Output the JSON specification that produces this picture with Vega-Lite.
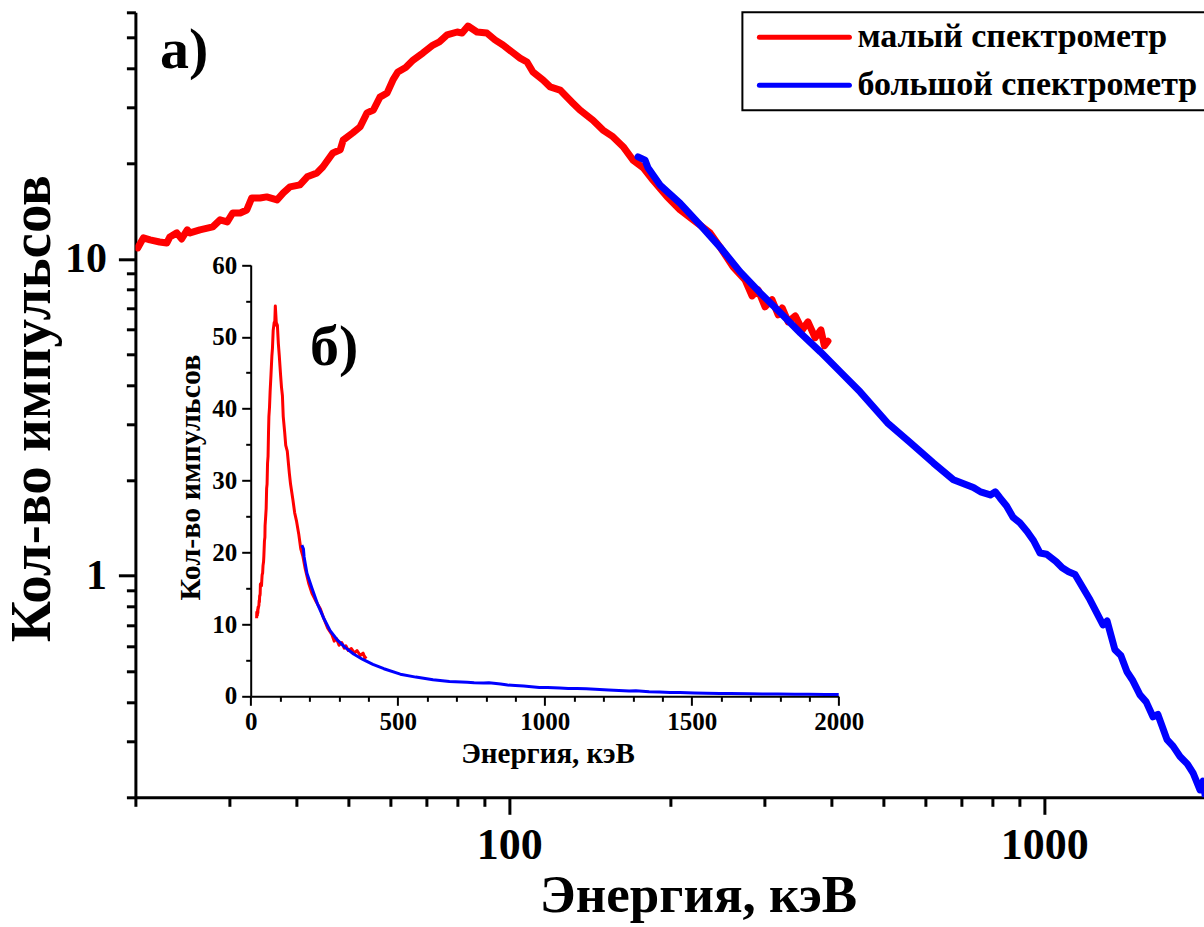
{
  "$schema": "https://vega.github.io/schema/vega-lite/v6.json",
  "width": 1070,
  "height": 785,
  "autosize": "none",
  "padding": {"left": 135.4, "top": 12.3, "right": 0, "bottom": 129.7},
  "background": "white",
  "config": {
    "font": "Liberation Serif",
    "view": {"stroke": null},
    "axis": {"grid": false, "domainColor": "black", "tickColor": "black", "labelColor": "black", "titleColor": "black", "labelFontWeight": "bold", "titleFontWeight": "bold", "labelFont": "Liberation Serif", "titleFont": "Liberation Serif", "labelOverlap": false, "labelFlush": false},
    "legend": {"orient": "top-right", "offset": 0, "padding": 8, "strokeColor": "black", "strokeWidth": 2, "fillColor": "white", "symbolType": "M-5,0H5", "symbolSize": 324, "symbolOffset": 37, "symbolStrokeWidth": 5, "symbolFillColor": "transparent", "labelFont": "Liberation Serif", "labelFontSize": 34, "labelFontWeight": "bold", "labelColor": "black", "labelLimit": 700, "rowPadding": 14, "labelOffset": 36}
  },
  "datasets": {
    "spectra": [
      {"series": "малый спектрометр", "E": 20.2, "N": 10.83},
      {"series": "малый спектрометр", "E": 20.7, "N": 11.65},
      {"series": "малый спектрометр", "E": 21.3, "N": 11.48},
      {"series": "малый спектрометр", "E": 22.2, "N": 11.31},
      {"series": "малый спектрометр", "E": 22.9, "N": 11.23},
      {"series": "малый спектрометр", "E": 23.2, "N": 11.73},
      {"series": "малый спектрометр", "E": 23.9, "N": 12.08},
      {"series": "малый спектрометр", "E": 24.4, "N": 11.56},
      {"series": "малый спектрометр", "E": 25.0, "N": 12.35},
      {"series": "малый спектрометр", "E": 25.3, "N": 12.08},
      {"series": "малый спектрометр", "E": 26.4, "N": 12.35},
      {"series": "малый спектрометр", "E": 27.9, "N": 12.62},
      {"series": "малый спектрометр", "E": 28.8, "N": 13.28},
      {"series": "малый спектрометр", "E": 29.7, "N": 13.09},
      {"series": "малый спектрометр", "E": 30.4, "N": 13.96},
      {"series": "малый спектрометр", "E": 31.4, "N": 13.96},
      {"series": "малый спектрометр", "E": 32.3, "N": 14.27},
      {"series": "малый спектрометр", "E": 33.0, "N": 15.57},
      {"series": "малый спектрометр", "E": 34.2, "N": 15.57},
      {"series": "малый спектрометр", "E": 35.2, "N": 15.69},
      {"series": "малый спектрометр", "E": 36.8, "N": 15.35},
      {"series": "малый спектрометр", "E": 37.8, "N": 16.15},
      {"series": "малый спектрометр", "E": 38.9, "N": 16.87},
      {"series": "малый спектрометр", "E": 40.6, "N": 17.12},
      {"series": "малый спектрометр", "E": 41.9, "N": 18.15},
      {"series": "малый спектрометр", "E": 43.7, "N": 18.68},
      {"series": "малый спектрометр", "E": 44.8, "N": 19.5},
      {"series": "малый спектрометр", "E": 46.8, "N": 21.6},
      {"series": "малый спектрометр", "E": 48.3, "N": 22.1},
      {"series": "малый спектрометр", "E": 48.9, "N": 23.7},
      {"series": "малый спектрометр", "E": 51.0, "N": 25.0},
      {"series": "малый спектрометр", "E": 52.6, "N": 26.1},
      {"series": "малый спектрометр", "E": 54.2, "N": 28.9},
      {"series": "малый спектрометр", "E": 55.7, "N": 29.5},
      {"series": "малый спектрометр", "E": 57.3, "N": 32.4},
      {"series": "малый спектрометр", "E": 59.1, "N": 33.4},
      {"series": "малый спектрометр", "E": 60.6, "N": 36.7},
      {"series": "малый спектрометр", "E": 61.9, "N": 38.9},
      {"series": "малый спектрометр", "E": 64.0, "N": 40.2},
      {"series": "малый спектрометр", "E": 66.1, "N": 42.4},
      {"series": "малый спектрометр", "E": 69.0, "N": 44.7},
      {"series": "малый спектрометр", "E": 72.0, "N": 47.3},
      {"series": "малый спектрометр", "E": 74.0, "N": 48.4},
      {"series": "малый спектрометр", "E": 76.5, "N": 50.9},
      {"series": "малый спектрометр", "E": 79.9, "N": 52.0},
      {"series": "малый спектрометр", "E": 81.6, "N": 51.6},
      {"series": "малый спектрометр", "E": 83.7, "N": 54.3},
      {"series": "малый спектрометр", "E": 87.0, "N": 52.0},
      {"series": "малый спектрометр", "E": 90.8, "N": 51.6},
      {"series": "малый спектрометр", "E": 94.0, "N": 49.1},
      {"series": "малый спектрометр", "E": 97.3, "N": 47.3},
      {"series": "малый спектрометр", "E": 101.6, "N": 44.7},
      {"series": "малый спектрометр", "E": 104.7, "N": 43.0},
      {"series": "малый спектрометр", "E": 107.9, "N": 41.8},
      {"series": "малый спектрометр", "E": 110.7, "N": 38.9},
      {"series": "малый спектрометр", "E": 115.6, "N": 36.7},
      {"series": "малый спектрометр", "E": 119.2, "N": 34.9},
      {"series": "малый спектрометр", "E": 124.4, "N": 34.1},
      {"series": "малый спектрометр", "E": 131.5, "N": 31.0},
      {"series": "малый спектрометр", "E": 135.5, "N": 29.5},
      {"series": "малый спектрометр", "E": 143.3, "N": 27.4},
      {"series": "малый спектрометр", "E": 149.6, "N": 25.5},
      {"series": "малый спектрометр", "E": 156.1, "N": 24.3},
      {"series": "малый спектрометр", "E": 163.2, "N": 22.6},
      {"series": "малый спектрометр", "E": 170.3, "N": 20.5},
      {"series": "малый спектрометр", "E": 177.8, "N": 19.4},
      {"series": "малый спектрометр", "E": 185.6, "N": 17.7},
      {"series": "малый спектрометр", "E": 197.2, "N": 15.7},
      {"series": "малый спектрометр", "E": 208.4, "N": 14.3},
      {"series": "малый спектрометр", "E": 220.4, "N": 13.3},
      {"series": "малый спектрометр", "E": 237.1, "N": 12.1},
      {"series": "малый спектрометр", "E": 247.6, "N": 10.9},
      {"series": "малый спектрометр", "E": 261.9, "N": 9.44},
      {"series": "малый спектрометр", "E": 275.8, "N": 8.59},
      {"series": "малый спектрометр", "E": 284.2, "N": 7.64},
      {"series": "малый спектрометр", "E": 291.7, "N": 7.98},
      {"series": "малый спектрометр", "E": 300.6, "N": 7.06},
      {"series": "малый спектрометр", "E": 309.8, "N": 7.43},
      {"series": "малый спектрометр", "E": 318.1, "N": 6.66},
      {"series": "малый спектрометр", "E": 323.6, "N": 7.0},
      {"series": "малый спектрометр", "E": 332.0, "N": 6.33},
      {"series": "малый спектрометр", "E": 342.3, "N": 6.61},
      {"series": "малый спектрометр", "E": 352.8, "N": 5.97},
      {"series": "малый спектрометр", "E": 361.6, "N": 6.33},
      {"series": "малый спектрометр", "E": 372.9, "N": 5.64},
      {"series": "малый спектрометр", "E": 382.3, "N": 5.97},
      {"series": "малый спектрометр", "E": 388.0, "N": 5.32},
      {"series": "малый спектрометр", "E": 394.0, "N": 5.5},
      {"series": "большой спектрометр", "E": 174.0, "N": 21.0},
      {"series": "большой спектрометр", "E": 179.3, "N": 20.5},
      {"series": "большой спектрометр", "E": 181.6, "N": 19.4},
      {"series": "большой спектрометр", "E": 185.6, "N": 18.4},
      {"series": "большой спектрометр", "E": 191.3, "N": 17.1},
      {"series": "большой спектрометр", "E": 208.4, "N": 15.0},
      {"series": "большой спектрометр", "E": 227.3, "N": 12.8},
      {"series": "большой спектрометр", "E": 247.6, "N": 10.9},
      {"series": "большой спектрометр", "E": 270.1, "N": 9.1},
      {"series": "большой спектрометр", "E": 294.4, "N": 7.81},
      {"series": "большой спектрометр", "E": 321.0, "N": 6.76},
      {"series": "большой спектрометр", "E": 349.9, "N": 5.84},
      {"series": "большой спектрометр", "E": 381.4, "N": 5.09},
      {"series": "большой спектрометр", "E": 415.6, "N": 4.4},
      {"series": "большой спектрометр", "E": 452.9, "N": 3.8},
      {"series": "большой спектрометр", "E": 508.9, "N": 3.04},
      {"series": "большой спектрометр", "E": 561.6, "N": 2.63},
      {"series": "большой спектрометр", "E": 620.2, "N": 2.27},
      {"series": "большой спектрометр", "E": 676.1, "N": 2.01},
      {"series": "большой спектрометр", "E": 736.9, "N": 1.9},
      {"series": "большой спектрометр", "E": 760.0, "N": 1.84},
      {"series": "большой спектрометр", "E": 792.6, "N": 1.8},
      {"series": "большой спектрометр", "E": 810.0, "N": 1.84},
      {"series": "большой спектрометр", "E": 826.5, "N": 1.76},
      {"series": "большой спектрометр", "E": 850.0, "N": 1.66},
      {"series": "большой спектрометр", "E": 873.9, "N": 1.53},
      {"series": "большой спектрометр", "E": 900.0, "N": 1.47},
      {"series": "большой спектрометр", "E": 928.5, "N": 1.38},
      {"series": "большой спектрометр", "E": 955.0, "N": 1.29},
      {"series": "большой спектрометр", "E": 981.7, "N": 1.18},
      {"series": "большой спектрометр", "E": 1010.0, "N": 1.17},
      {"series": "большой спектрометр", "E": 1051.5, "N": 1.11},
      {"series": "большой спектрометр", "E": 1080.0, "N": 1.06},
      {"series": "большой спектрометр", "E": 1110.0, "N": 1.03},
      {"series": "большой спектрометр", "E": 1141.3, "N": 1.01},
      {"series": "большой спектрометр", "E": 1217.2, "N": 0.84},
      {"series": "большой спектрометр", "E": 1287.3, "N": 0.7},
      {"series": "большой спектрометр", "E": 1310.0, "N": 0.72},
      {"series": "большой спектрометр", "E": 1355.2, "N": 0.584},
      {"series": "большой спектрометр", "E": 1390.0, "N": 0.56},
      {"series": "большой спектрометр", "E": 1427.2, "N": 0.498},
      {"series": "большой спектрометр", "E": 1460.0, "N": 0.47},
      {"series": "большой спектрометр", "E": 1509.3, "N": 0.421},
      {"series": "большой спектрометр", "E": 1550.0, "N": 0.4},
      {"series": "большой спектрометр", "E": 1596.0, "N": 0.359},
      {"series": "большой спектрометр", "E": 1630.0, "N": 0.365},
      {"series": "большой спектрометр", "E": 1695.6, "N": 0.304},
      {"series": "большой спектрометр", "E": 1740.0, "N": 0.29},
      {"series": "большой спектрометр", "E": 1793.0, "N": 0.269},
      {"series": "большой спектрометр", "E": 1850.0, "N": 0.255},
      {"series": "большой спектрометр", "E": 1896.2, "N": 0.239},
      {"series": "большой спектрометр", "E": 1954.3, "N": 0.211},
      {"series": "большой спектрометр", "E": 1980.0, "N": 0.225},
      {"series": "большой спектрометр", "E": 2000.0, "N": 0.2}
    ]
  },
  "resolve": {"scale": {"x": "independent", "y": "independent"}},
  "layer": [
    {
      "encoding": {
        "x": {"field": "E", "type": "quantitative", "title": "Энергия, кэВ",
          "scale": {"type": "log", "domain": [20, 2000], "nice": false},
          "axis": {"orient": "bottom", "values": [20, 30, 40, 50, 60, 70, 80, 90, 100, 200, 300, 400, 500, 600, 700, 800, 900, 1000, 2000], "format": "d",
            "labelExpr": "datum.value == 100 || datum.value == 1000 ? datum.label : ''",
            "domainWidth": 3, "tickWidth": 3,
            "tickSize": {"condition": {"test": "datum.value == 100 || datum.value == 1000", "value": 17}, "value": 9},
            "labelFontSize": 44, "labelPadding": 9,
            "titleFontSize": 53, "titleX": 562.6, "titleY": 114.7, "titleBaseline": "alphabetic", "titleAlign": "center"}},
        "y": {"field": "N", "type": "quantitative", "title": "Кол-во импульсов",
          "scale": {"type": "log", "domain": [0.2, 60], "nice": false},
          "axis": {"orient": "left", "values": [0.2, 0.3, 0.4, 0.5, 0.6, 0.7, 0.8, 0.9, 1, 2, 3, 4, 5, 6, 7, 8, 9, 10, 20, 30, 40, 50, 60], "format": "d",
            "labelExpr": "datum.value == 1 || datum.value == 10 ? datum.label : ''",
            "domainWidth": 3, "tickWidth": 3,
            "tickSize": {"condition": {"test": "datum.value == 1 || datum.value == 10", "value": 17}, "value": 9},
            "labelFontSize": 42, "labelPadding": 12,
            "titleFontSize": 57, "titleAngle": -90, "titleX": -85.4, "titleY": 396, "titleBaseline": "alphabetic", "titleAlign": "center"}}
      },
      "layer": [
        {
          "data": {"name": "spectra"},
          "transform": [{"filter": "datum.series == 'малый спектрометр'"}],
          "mark": {"type": "line", "strokeWidth": 7, "clip": true, "strokeJoin": "round", "strokeCap": "round"},
          "encoding": {
            "color": {"field": "series", "type": "nominal",
              "scale": {"domain": ["малый спектрометр", "большой спектрометр"], "range": ["#ff0000", "#0000ff"]},
              "legend": {"title": null, "encode": {"symbols": {"update": {"strokeCap": {"value": "round"}}}}}}
          }
        },
        {
          "data": {"name": "spectra"},
          "transform": [{"filter": "datum.series == 'большой спектрометр'"}],
          "mark": {"type": "line", "strokeWidth": 7, "clip": true, "strokeJoin": "round", "strokeCap": "round"},
          "encoding": {
            "color": {"field": "series", "type": "nominal", "legend": {"title": null}}
          }
        },
        {
          "data": {"values": [{"E": 22.24, "N": 40.05, "t": "а)"}]},
          "mark": {"type": "text", "fontSize": 58, "fontWeight": "bold", "font": "Liberation Serif", "align": "left", "baseline": "alphabetic", "color": "black"},
          "encoding": {"text": {"field": "t"}}
        }
      ]
    },
    {
      "encoding": {
        "x": {"field": "E", "type": "quantitative", "title": "Энергия, кэВ",
          "scale": {"domain": [0, 2000], "range": [115.3, 703.3], "nice": false, "zero": false},
          "axis": {"orient": "bottom", "offset": -101, "values": [0, 100, 200, 300, 400, 500, 600, 700, 800, 900, 1000, 1100, 1200, 1300, 1400, 1500, 1600, 1700, 1800, 1900, 2000], "format": "d",
            "labelExpr": "datum.value % 500 == 0 ? datum.label : ''",
            "domainWidth": 2, "tickWidth": 2,
            "tickSize": {"condition": {"test": "datum.value % 500 == 0", "value": 9}, "value": 5},
            "labelFontSize": 25, "labelPadding": 4,
            "titleFontSize": 29, "titleX": 412.1, "titleY": 66.7, "titleBaseline": "alphabetic", "titleAlign": "center"}},
        "y": {"field": "N", "type": "quantitative", "title": "Кол-во импульсов",
          "scale": {"domain": [0, 60], "range": [683.7, 252.7], "nice": false, "zero": false},
          "axis": {"orient": "left", "offset": -115.3, "values": [0, 5, 10, 15, 20, 25, 30, 35, 40, 45, 50, 55, 60], "format": "d",
            "labelExpr": "datum.value % 10 == 0 ? datum.label : ''",
            "domainWidth": 2, "tickWidth": 2,
            "tickSize": {"condition": {"test": "datum.value % 10 == 0", "value": 9}, "value": 5},
            "labelFontSize": 25, "labelPadding": 5,
            "titleFontSize": 30, "titleAngle": -90, "titleX": -50.7, "titleY": 464.7, "titleBaseline": "alphabetic", "titleAlign": "center"}}
      },
      "layer": [
        {
          "data": {"name": "spectra"},
          "transform": [{"filter": "datum.series == 'малый спектрометр'"}],
          "mark": {"type": "line", "strokeWidth": 3, "strokeJoin": "round"},
          "encoding": {"color": {"field": "series", "type": "nominal", "legend": {"title": null}}}
        },
        {
          "data": {"name": "spectra"},
          "transform": [{"filter": "datum.series == 'большой спектрометр'"}],
          "mark": {"type": "line", "strokeWidth": 3, "strokeJoin": "round"},
          "encoding": {"color": {"field": "series", "type": "nominal", "legend": {"title": null}}}
        },
        {
          "data": {"values": [{"E": 201.7, "N": 46.1, "t": "б)"}]},
          "mark": {"type": "text", "fontSize": 58, "fontWeight": "bold", "font": "Liberation Serif", "align": "left", "baseline": "alphabetic", "color": "black"},
          "encoding": {"text": {"field": "t"}}
        }
      ]
    }
  ]
}
